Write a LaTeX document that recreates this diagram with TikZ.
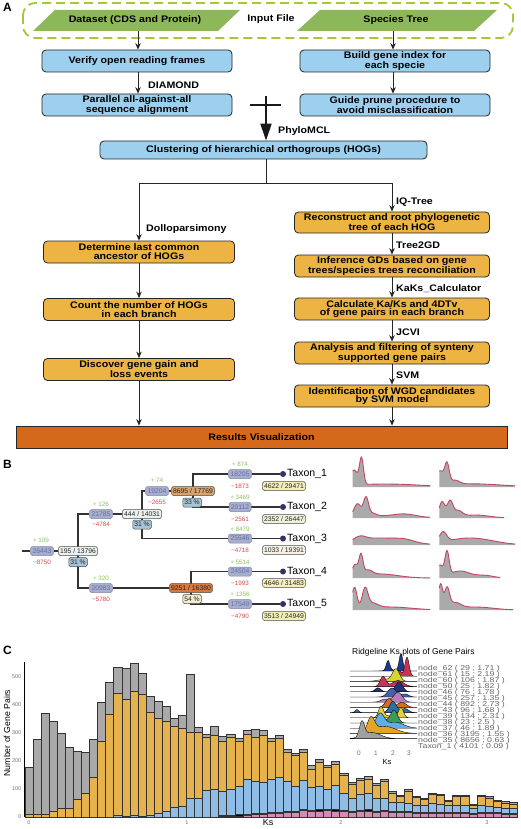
\documentclass[tikz,border=0pt]{standalone}
\usepackage{fontspec}
\setmainfont{Liberation Sans}
\newfontfamily\bx[FakeStretch=1.12]{Liberation Sans}
\usetikzlibrary{arrows.meta,calc,backgrounds}
\definecolor{cgreen}{HTML}{8DB85A}
\definecolor{cdash}{HTML}{A2C83C}
\definecolor{cblue}{HTML}{9DCFEF}
\definecolor{corange}{HTML}{EDB443}
\definecolor{cres}{HTML}{D4691C}
\definecolor{cnb}{HTML}{A9AECC}
\definecolor{cnbd}{HTML}{7E86A8}
\definecolor{cnt}{HTML}{5F72AA}
\definecolor{cgain}{HTML}{8CC260}
\definecolor{closs}{HTML}{D9464A}
\definecolor{cpct}{HTML}{A6C4D6}
\definecolor{cta}{HTML}{D9A36B}
\definecolor{ctb}{HTML}{D47A3E}
\definecolor{cpy}{HTML}{EEEECB}
\definecolor{cq1}{HTML}{F4EEB7}
\definecolor{cq2}{HTML}{EDF0DA}
\definecolor{cq3}{HTML}{F6F4E6}
\definecolor{cr0}{HTML}{EBF1EE}
\definecolor{cdfill}{HTML}{AAAAAA}
\definecolor{cdline}{HTML}{C5455F}
\definecolor{bgrey}{HTML}{A9A9A9}
\definecolor{borange}{HTML}{E5B24E}
\definecolor{bblue}{HTML}{8FBDE6}
\definecolor{bpink}{HTML}{D38CB4}
\definecolor{k0}{HTML}{1F3A8C}
\definecolor{k1}{HTML}{C93350}
\definecolor{k2}{HTML}{D6D62E}
\definecolor{k3}{HTML}{C23462}
\definecolor{k4}{HTML}{1F3570}
\definecolor{k5}{HTML}{4660A8}
\definecolor{k6}{HTML}{B87DB9}
\definecolor{k7}{HTML}{CF6E24}
\definecolor{k8}{HTML}{2F6DB3}
\definecolor{k9}{HTML}{E5CF3C}
\definecolor{k10}{HTML}{3B9B58}
\definecolor{k11}{HTML}{62ADE3}
\definecolor{k12}{HTML}{E3A526}
\definecolor{k13}{HTML}{A0A0A0}
\newcommand\denplot[4]{%
  \fill[cdfill] (#1,#3) -- plot[domain=#1:#2, samples=110] (\x,{#3-(#4)}) -- (#2,#3) -- cycle;
  \draw[cdline, line width=0.9pt] plot[domain=#1:#2, samples=110] (\x,{#3-(#4)});}
\newcommand\ridge[3]{%
  \filldraw[fill=#2, draw=black, line width=0.35pt] (350,#1) -- plot[domain=350:417, samples=80] (\x,{#1-(#3)}) -- (417,#1) -- cycle;}
\begin{document}
\begin{tikzpicture}[x=1pt,y=-1pt,
  declare function={g(\a,\b,\c)=exp(-((\a-\b)/\c)*((\a-\b)/\c));},
  fb/.style={font=\bx\bfseries\fontsize{9.5}{8.8}\selectfont},
  bluebox/.style={fb, draw=black!85, line width=0.8pt, fill=cblue, rounded corners=4pt,
     minimum width=190pt, minimum height=22pt, align=center, inner sep=1pt},
  orbox/.style={bluebox, fill=corange},
  arr/.style={-{Stealth[length=6.5pt,width=5.5pt]}, line width=0.8pt, draw=black!85},
  lab/.style={fb, anchor=west, inner sep=0pt},
  plab/.style={font=\bfseries\fontsize{12}{12}\selectfont, inner sep=0pt},
  tline/.style={line width=1.1pt, draw=black!80},
  nb/.style={draw=cnbd, fill=cnb, text=cnt, rounded corners=1.5pt, inner xsep=1.8pt, inner ysep=1pt,
     font=\fontsize{6.8}{7}\selectfont, minimum height=9pt, line width=0.5pt},
  rb/.style={draw=black!70, rounded corners=1.5pt, inner xsep=1.5pt, inner ysep=0.8pt,
     font=\fontsize{6.8}{7}\selectfont, text=black!85, minimum height=9pt, line width=0.5pt},
  gain/.style={text=cgain, font=\fontsize{6.3}{6.3}\selectfont, inner sep=0pt},
  loss/.style={text=closs, font=\fontsize{6.3}{6.3}\selectfont, inner sep=0pt},
  taxl/.style={anchor=west, font=\fontsize{10.5}{11}\selectfont, inner sep=0pt},
  hbar/.style={draw=black!80, line width=0.6pt},
  rl/.style={anchor=west, inner sep=0pt, text=black!60, font=\fontsize{8.8}{9}\selectfont},
  tick/.style={inner sep=0pt, text=black!55, font=\fontsize{5.5}{5.5}\selectfont}
]
\useasboundingbox (0,0) rectangle (520,829);

% ================= Panel A =================
\node[plab] (pa) at (7.5,7.5) {A};
\draw[cdash, line width=1.8pt, dash pattern=on 9pt off 5pt, rounded corners=12pt] (23,3) rectangle (513,38);
\fill[cgreen] (33,31) -- (55,10) -- (240,10) -- (218,31) -- cycle;
\fill[cgreen] (297,31) -- (320,10) -- (497,10) -- (474,31) -- cycle;
\node[fb] (ds) at (135,20.5) {Dataset (CDS and Protein)};
\node[fb] (st) at (396,20.5) {Species Tree};
\node[fb] (inp) at (271,19) {Input File};
\coordinate (dsb) at (138,31);
\coordinate (stb) at (393,31);

\node[bluebox] (v1) at (137,61) {Verify open reading frames};
\node[bluebox] (v2) at (395,61) {Build gene index for\\each specie};
\node[bluebox] (v3) at (137,105) {Parallel all-against-all\\sequence alignment};
\node[bluebox] (v4) at (395,105) {Guide prune procedure to\\avoid misclassification};
\node[bluebox, minimum width=327pt, minimum height=18pt] (v5) at (263.5,150) {Clustering of hierarchical orthogroups (HOGs)};

\draw[arr] (dsb) -- (dsb |- v1.north);
\draw[arr] (stb) -- (stb |- v2.north);
\draw[arr] (v1.south -| dsb) -- (v3.north -| dsb);
\draw[arr] (v2.south -| stb) -- (v4.north -| stb);
\node[lab] (ldia) at (148,85) {DIAMOND};

\coordinate (cl) at (250,105);
\coordinate (cr) at (281,105);
\draw[line width=1.6pt, draw=black!90] (cl) -- (cr);
\coordinate (ct) at (266,96);
\draw[line width=2pt, draw=black!90, -{Triangle[length=17pt,width=11pt]}] (ct) -- (ct |- v5.north);
\node[lab] (lphy) at (278,131.5) {PhyloMCL};

\node[orbox, minimum width=191pt] (d1) at (139,252) {Determine last common\\ancestor of HOGs};
\node[orbox, minimum width=191pt] (d2) at (139,309.5) {Count the number of HOGs\\in each branch};
\node[orbox, minimum width=191pt] (d3) at (139,369.5) {Discover gene gain and\\loss events};
\node[orbox, minimum width=195pt, minimum height=21pt] (r1) at (392,222.5) {Reconstruct and root phylogenetic\\tree of each HOG};
\node[orbox, minimum width=195pt] (r2) at (392,266) {Inference GDs based on gene\\trees/species trees reconciliation};
\node[orbox, minimum width=195pt] (r3) at (392,309) {Calculate Ka/Ks and 4DTv\\of gene pairs in each branch};
\node[orbox, minimum width=195pt] (r4) at (392,353) {Analysis and filtering of synteny\\supported gene pairs};
\node[orbox, minimum width=195pt] (r5) at (392,396) {Identification of WGD candidates\\by SVM model};

\coordinate (sp) at (266,183);
\coordinate (spl) at (139,183);
\coordinate (spr) at (392,183);
\draw[line width=0.8pt, draw=black!85] (v5.south -| sp) -- (sp);
\draw[line width=0.8pt, draw=black!85] (spl) -- (spr);
\draw[arr] (spl) -- (d1.north);
\draw[arr] (spr) -- (r1.north);
\draw[arr] (d1) -- (d2);
\draw[arr] (d2) -- (d3);
\draw[arr] (r1) -- (r2);
\draw[arr] (r2) -- (r3);
\draw[arr] (r3) -- (r4);
\draw[arr] (r4) -- (r5);
\node[lab] (ldol) at (146,229) {Dolloparsimony};
\node[lab] (liq) at (396,202) {IQ-Tree};
\node[lab] (lt2) at (396,245) {Tree2GD};
\node[lab] (lka) at (396,288.5) {KaKs\_Calculator};
\node[lab] (ljc) at (396,332) {JCVI};
\node[lab] (lsv) at (396,375.5) {SVM};

\node[fb, draw=black!85, line width=0.8pt, fill=cres, minimum width=491pt, minimum height=22pt] (res) at (261.5,437) {Results Visualization};
\draw[arr] (d3.south) -- (d3.south |- res.north);
\draw[arr] (r5.south) -- (r5.south |- res.north);

% ================= Panel B =================
\node[plab] (pb) at (7.5,464) {B};
\coordinate (rt) at (22,551);
\node[nb] (n0) at (42,551) {26443};
\node[rb, fill=cr0] (c0) at (78,551) {195 / 13796};
\node[rb, fill=cpct] (p0) at (78,562) {31 \%};
\node[gain] (g0) at (41,540.5) {+ 109};
\node[loss] (l0) at (42,562) {−8750};

\node[nb] (n1) at (101,514) {21785};
\node[gain] (g1) at (101,504) {+ 126};
\node[loss] (l1) at (101,524.5) {−4784};
\node[rb, fill=cr0] (c1) at (142,514) {444 / 14031};
\node[rb, fill=cpct] (p1) at (142,524.5) {31 \%};

\node[nb] (n3) at (157,491) {19204};
\node[gain] (g3) at (157,480.5) {+ 74};
\node[loss] (l3) at (157,502.5) {−2655};
\node[rb, fill=cta] (c3) at (193,491) {8695 / 17769};
\node[rb, fill=cpct] (p3) at (192,502.5) {33 \%};

\node[nb] (n2) at (101,588) {20983};
\node[gain] (g2) at (101,578) {+ 320};
\node[loss] (l2) at (101,599) {−5780};
\node[rb, fill=ctb] (c2) at (191,588) {9251 / 16380};
\node[rb, fill=cpy] (p2) at (192,599) {54 \%};

\node[nb] (n6) at (240,474) {18205};
\node[nb] (n7) at (240,507) {20112};
\node[nb] (n5) at (240,538.5) {25546};
\node[nb] (n8) at (240,571.5) {24504};
\node[nb] (n9) at (240,604) {17549};
\node[gain] (g6) at (240,464.5) {+ 874};
\node[loss] (l6) at (240,486) {−1873};
\node[gain] (g7) at (240,497) {+ 3469};
\node[loss] (l7) at (240,519) {−2561};
\node[gain] (g5) at (240,529) {+ 8479};
\node[loss] (l5) at (240,550) {−4718};
\node[gain] (g8) at (240,562) {+ 5514};
\node[loss] (l8) at (240,583) {−1993};
\node[gain] (g9) at (240,594) {+ 1356};
\node[loss] (l9) at (240,616) {−4790};

\foreach \nm/\yy in {t1/474,t2/507,t3/538.5,t4/571.5,t5/604}{
  \node[circle, fill=black!70!blue!60!gray, inner sep=0pt, minimum size=6pt] (\nm) at (283,\yy) {};
}
\node[taxl] (tx1) at (287,474) {Taxon\_1};
\node[taxl] (tx2) at (287,507) {Taxon\_2};
\node[taxl] (tx3) at (287,538.5) {Taxon\_3};
\node[taxl] (tx4) at (287,571.5) {Taxon\_4};
\node[taxl] (tx5) at (287,604) {Taxon\_5};
\node[rb, fill=cq1] (q1) at (284,486) {4622 / 29471};
\node[rb, fill=cq2] (q2) at (284,519) {2352 / 26447};
\node[rb, fill=cq3] (q3) at (284,550) {1033 / 19391};
\node[rb, fill=cq1] (q4) at (284,583) {4646 / 31483};
\node[rb, fill=cq1] (q5) at (284,616) {3513 / 24949};

\begin{pgfonlayer}{background}
\fill[white] (0,0) rectangle (520,829);
\draw[tline] (rt) -- (n0.west);
\draw[tline] (n0) -- (c0);
\draw[tline] (n1.west) -| (c0.center) |- (n2.west);
\draw[tline] (n1) -- (c1);
\draw[tline] (n3.west) -| (c1.center) |- (n5.west);
\draw[tline] (n3) -- (c3);
\draw[tline] (n6.west) -| (c3.center) |- (n7.west);
\draw[tline] (n2) -- (c2);
\draw[tline] (n8.west) -| (c2.center) |- (n9.west);
\draw[tline] (n6) -- (t1);
\draw[tline] (n7) -- (t2);
\draw[tline] (n5) -- (t3);
\draw[tline] (n8) -- (t4);
\draw[tline] (n9) -- (t5);
\end{pgfonlayer}

% density plots
\denplot{352.7}{430}{487}{15*g(\x,354,5)+26*g(\x,361.5,2.8)+3*g(\x,385,50)}
\denplot{439.3}{515}{487}{14*g(\x,440,5)+20*g(\x,447,3.2)+4*g(\x,455,6)+3.2*g(\x,470,45)}
\denplot{352.7}{430}{518}{13*g(\x,357.5,5)+18*g(\x,366,3.5)+3*g(\x,372,6)+2.5*g(\x,405,15)+2*g(\x,385,40)}
\denplot{439.3}{504}{518}{16*g(\x,442,4)+16*g(\x,450,4)+6*g(\x,458,6)+3*g(\x,475,20)}
\denplot{352.7}{430}{545}{4*g(\x,360,8)+7*g(\x,380,35)+2*g(\x,405,12)}
\denplot{439.3}{515}{545}{10*g(\x,443,5)+7*g(\x,470,32)}
\denplot{352.7}{430}{578}{12*g(\x,355,4)+20*g(\x,361,2.8)+5*g(\x,368,6)+4*g(\x,380,25)}
\denplot{439.3}{500}{578}{12*g(\x,440,4)+24*g(\x,447,3)+7*g(\x,460,14)+2.5*g(\x,485,12)}
\denplot{352.7}{430}{610}{22*g(\x,354.5,3.5)+19*g(\x,365,4)+5*g(\x,372,8)+3*g(\x,390,30)}
\denplot{439.3}{513}{610}{25*g(\x,440.5,3)+20*g(\x,447,3.5)+6*g(\x,455,8)+3*g(\x,475,25)}

% ================= Panel C =================
\node[plab] (pc) at (7.5,650) {C};
\foreach \k/\T/\O/\B/\P in {0/175/10/0/0,1/278/10/0/0,2/370/8/0/0,3/340/20/0/0,4/298/30/0/0,
 5/248/30/0/0,6/233/62/0/0,7/230/85/0/0,8/275/140/0/0,9/408/270/0/0,10/480/365/0/0,
 11/532/440/5/0,12/528/420/3/0,13/548/448/5/0,14/510/435/3/0,15/428/372/5/0,16/410/350/12/0,
 17/393/340/20/0,18/352/322/35/0,19/360/315/38/0,20/507/302/65/0,21/318/300/68/0,
 22/295/285/95/0,23/322/290/98/0,24/288/270/92/2,25/295/285/98/3,26/280/268/108/4,
 27/310/295/133/5,28/312/285/128/8,29/310/290/122/10,30/280/270/135/12,31/290/280/140/12,
 32/240/230/128/15,33/228/220/110/15,34/240/230/130/25,35/185/170/105/20,36/205/195/108/22,
 37/185/175/100/25,38/198/188/113/22,39/157/150/84/20,40/125/118/66/18,41/138/130/80/20,
 42/143/135/84/22,43/120/112/66/18,44/135/128/66/20,45/90/85/54/15,46/78/72/54/15,
 47/99/92/49/15,48/74/70/43/14,49/67/62/43/12,50/85/80/49/14,51/82/78/45/12,52/60/55/40/12,
 53/78/72/42/14,54/78/72/40/12,55/46/42/30/10,56/78/72/40/12,57/74/68/38/12,58/60/55/35/12,
 59/56/50/32/10,60/52/46/30/10}{
  \pgfmathsetmacro\xa{25+8.07*\k}
  \pgfmathsetmacro\xb{\xa+8.07}
  \pgfmathsetmacro\Q{\P>0 ? \P+4 : 0}
  \filldraw[hbar, fill=bgrey] (\xa,817) rectangle (\xb,{817-0.2813*\T});
  \filldraw[hbar, fill=borange] (\xa,817) rectangle (\xb,{817-0.2813*\O});
  \filldraw[hbar, fill=bblue] (\xa,817) rectangle (\xb,{817-0.2813*\B});
  \filldraw[hbar, fill=black] (\xa,817) rectangle (\xb,{817-0.2813*\Q});
  \filldraw[hbar, fill=bpink] (\xa,817) rectangle (\xb,{817-0.2813*\P});
}
\coordinate (ya) at (24,662);
\coordinate (yb) at (24,817);
\draw[black, line width=0.7pt] (ya) -- (yb);
\foreach \v in {0,100,200,300,400,500}{
  \node[tick, anchor=east] (yt\v) at (21.5,{817-0.2813*\v}) {\v};
}
\node[tick] (xt0) at (29,822.5) {0};
\node[tick] (xt1) at (187,822.5) {1};
\node[tick] (xt2) at (341,822.5) {2};
\node[tick] (xt3) at (487,822.5) {3};
\node[inner sep=0pt, font=\fontsize{9}{9}\selectfont] (ksx) at (268,822) {Ks};
\node[inner sep=0pt, rotate=90, font=\fontsize{8.7}{9}\selectfont] (ylab) at (7,733) {Number of Gene Pairs};

% ridgeline inset
\node[anchor=west, inner sep=0pt, font=\fontsize{8.5}{9}\selectfont] (rtitle) at (352,652) {Ridgeline Ks plots of Gene Pairs};
\ridge{671}{k0}{10*g(\x,388,2.5)+17*g(\x,401,2.5)+1*g(\x,395,10)}
\ridge{676.2}{k1}{6*g(\x,399,3)+19*g(\x,407,3)}
\ridge{681.4}{k2}{12*g(\x,396,5)+2*g(\x,385,10)}
\ridge{686.6}{k3}{10*g(\x,383,4)+6*g(\x,398,8)}
\ridge{691.8}{k4}{4*g(\x,378,4)+10*g(\x,399,5)}
\ridge{697}{k5}{9*g(\x,392,6)+3*g(\x,405,5)}
\ridge{702.2}{k6}{10*g(\x,398,6)+3*g(\x,385,6)}
\ridge{707.4}{k7}{9*g(\x,389,5)+5*g(\x,402,6)}
\ridge{712.6}{k8}{3*g(\x,357,2.5)+11*g(\x,393,5)+4*g(\x,405,5)}
\ridge{717.8}{k9}{11*g(\x,381,3.5)+10*g(\x,401,3.5)+2*g(\x,390,8)}
\ridge{723}{k10}{13*g(\x,394,5)+4*g(\x,382,6)}
\ridge{728.2}{k11}{14*g(\x,380,6)+6*g(\x,395,12)}
\ridge{733.4}{k12}{14*g(\x,371,5)+7*g(\x,385,15)}
\ridge{738.6}{k13}{15*g(\x,362,3.5)+6*g(\x,372,12)}
\foreach \i/\t in {0/{node\_62 ( 29 ; 1.71 )},1/{node\_61 ( 15 ; 2.19 )},2/{node\_60 ( 106 ; 1.87 )},
  3/{node\_50 ( 25 ; 1.82 )},4/{node\_46 ( 76 ; 1.78 )},5/{node\_45 ( 257 ; 1.35 )},
  6/{node\_44 ( 892 ; 2.73 )},7/{node\_43 ( 96 ; 1.68 )},8/{node\_39 ( 134 ; 2.31 )},
  9/{node\_38 ( 23 ; 2.5 )},10/{node\_37 ( 46 ; 1.89 )},11/{node\_36 ( 3195 ; 1.55 )},
  12/{node\_35 ( 8656 ; 0.63 )},13/{Taxon\_1 ( 4101 ; 0.09 )}}{
  \node[rl] (rl\i) at (418,{669+6.0*\i}) {\scalebox{1}[0.8]{\t}};
}
\node[tick, font=\fontsize{6.5}{6.5}\selectfont] (rk0) at (359,753) {0};
\node[tick, font=\fontsize{6.5}{6.5}\selectfont] (rk1) at (376,753) {1};
\node[tick, font=\fontsize{6.5}{6.5}\selectfont] (rk2) at (393,753) {2};
\node[tick, font=\fontsize{6.5}{6.5}\selectfont] (rk3) at (409,753) {3};
\node[inner sep=0pt, font=\fontsize{7.5}{8}\selectfont] (rks) at (387,762) {Ks};
\end{tikzpicture}
\end{document}
